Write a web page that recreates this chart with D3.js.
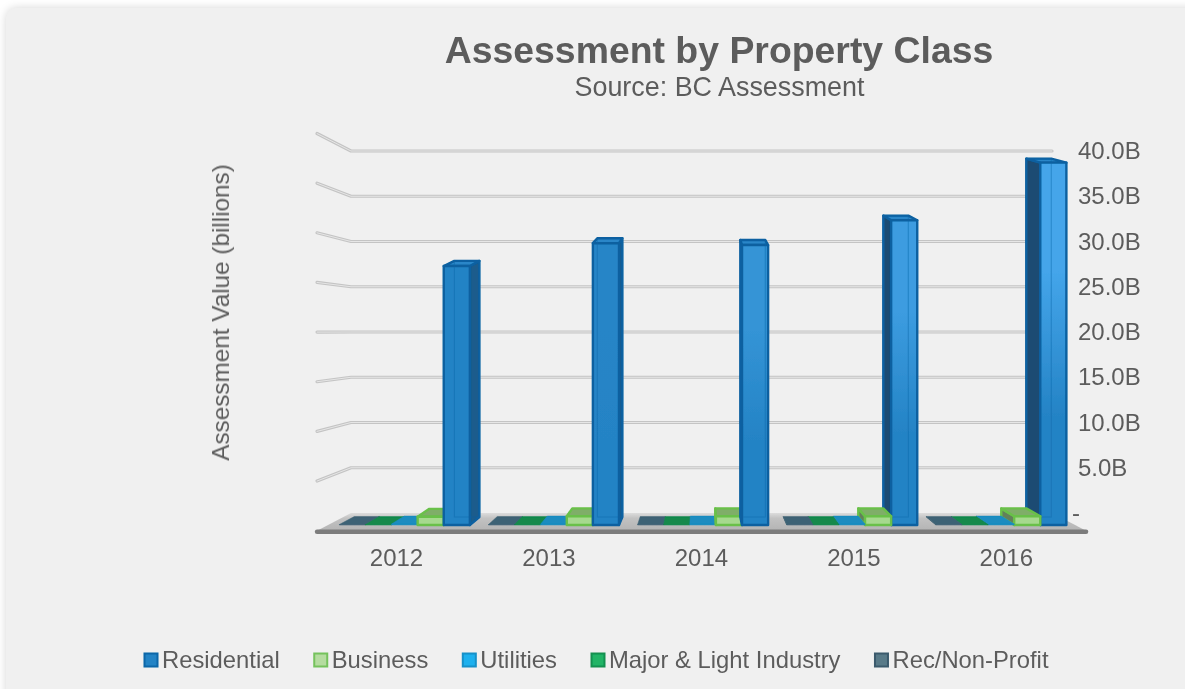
<!DOCTYPE html>
<html>
<head>
<meta charset="utf-8">
<script src="https://cdn.jsdelivr.net/npm/d3@7"></script>
<style>
  html, body { margin: 0; padding: 0; background: #fff; overflow: hidden; }
  text { font-family: "Liberation Sans", Arial, sans-serif; fill: #5c5c5c; }
</style>
</head>
<body>
<div id="chart"></div>
<script>
var years = ["2012", "2013", "2014", "2015", "2016"];
// left to right inside each cluster
var seriesOrder = ["Rec/Non-Profit", "Major & Light Industry", "Utilities", "Business", "Residential"];
var legendOrder = ["Residential", "Business", "Utilities", "Major & Light Industry", "Rec/Non-Profit"];

var residential = [28.3, 30.8, 30.6, 33.3, 39.6];
var business = [0.9, 0.95, 0.95, 0.95, 0.95];
var utilities = [0.1, 0.1, 0.1, 0.1, 0.1];
var majorIndustry = [0.05, 0.05, 0.05, 0.05, 0.05];
var recNonProfit = [0.05, 0.05, 0.05, 0.05, 0.05];

var yTicks = [0, 5, 10, 15, 20, 25, 30, 35, 40];

var values = {
  "Residential": residential,
  "Business": business,
  "Utilities": utilities,
  "Major & Light Industry": majorIndustry,
  "Rec/Non-Profit": recNonProfit
};

var colors = {
  "Residential": {front: "#2483c5", top: "#2a86c8", side: "#1c5b8c", edge: "#0a60a0"},
  "Business": {front: "#a6d98e", top: "#7fae68", side: "#64805a", edge: "#69c048"},
  "Utilities": {front: "#1a8cc0", top: "#1a8cc0", side: "#14709c", edge: "#1a8cc0"},
  "Major & Light Industry": {front: "#12894c", top: "#12894c", side: "#0e6e3c", edge: "#12894c"},
  "Rec/Non-Profit": {front: "#3e6274", top: "#3e6274", side: "#314f5e", edge: "#3e6274"}
};
var legendColors = {
  "Residential": {fill: "#2483c5", stroke: "#0b66a8"},
  "Business": {fill: "#b5dca0", stroke: "#74c25c"},
  "Utilities": {fill: "#1fb0ee", stroke: "#1490c8"},
  "Major & Light Industry": {fill: "#20b466", stroke: "#129050"},
  "Rec/Non-Profit": {fill: "#587a88", stroke: "#3a5a6c"}
};
// residential columns get lighter toward the top on the right of the chart
var residentialTop = ["#2483c5", "#2785c7", "#3494d6", "#3c9ce0", "#44a5ea"];

var width = 1185, height = 689;
var vpX = 701, vpY = 331;          // vanishing point of the fake 3d
var wallDepth = 1.097, barNear = 1.066, barFar = 1.022;

function px(x, s) { return vpX + (x - vpX) * s; }
function py(y, s) { return vpY + (y - vpY) * s; }

var svg = d3.select("#chart").append("svg")
  .attr("width", width)
  .attr("height", height)
  .style("display", "block");

var defs = svg.append("defs");
defs.append("filter").attr("id", "soft")
  .attr("filterUnits", "userSpaceOnUse")
  .attr("x", 0).attr("y", 0).attr("width", width).attr("height", height)
  .append("feGaussianBlur").attr("stdDeviation", 0.45);

var floorGrad = defs.append("linearGradient").attr("id", "floorGrad")
  .attr("x1", 0).attr("y1", 0).attr("x2", 0).attr("y2", 1);
floorGrad.append("stop").attr("offset", "0%").attr("stop-color", "#dcdcdc");
floorGrad.append("stop").attr("offset", "30%").attr("stop-color", "#c2c2c2");
floorGrad.append("stop").attr("offset", "100%").attr("stop-color", "#b4b4b4");

years.forEach(function(y, i) {
  var g = defs.append("linearGradient").attr("id", "resGrad" + i)
    .attr("x1", 0).attr("y1", 0).attr("x2", 0).attr("y2", 1);
  g.append("stop").attr("offset", "0%").attr("stop-color", residentialTop[i]);
  g.append("stop").attr("offset", "30%").attr("stop-color", residentialTop[i]);
  g.append("stop").attr("offset", "70%").attr("stop-color", "#2483c5");
});

// card
svg.append("rect")
  .attr("x", 6).attr("y", 8)
  .attr("width", width + 40).attr("height", height + 40)
  .attr("rx", 10)
  .attr("fill", "#f0f0f0")
  .style("filter", "drop-shadow(0px 0px 4px rgba(0,0,0,0.16))");

var root = svg.append("g").attr("filter", "url(#soft)");
var chart = root.append("g");

// scales
var yScale = d3.scaleLinear().domain([0, 40]).range([513, 151]);
var yBarFar = d3.scaleLinear().domain([0, 40]).range([517, 155]);
var yBarNear = d3.scaleLinear().domain([0, 40]).range([525, 159]);
var xYear = d3.scaleBand().domain(years).range([353, 1052.5]).paddingInner(0.125).paddingOuter(0.0625);
var xSeries = d3.scaleBand().domain(seriesOrder).range([0, xYear.bandwidth()]);
var xLabels = d3.scalePoint().domain(years).range([396, 1005.8]);

var line = d3.line();

// walls and grid
yTicks.filter(function(v) { return v > 0; }).forEach(function(v) {
  var y = yScale(v);
  var pts = [[px(351, wallDepth), py(y, wallDepth)], [351, y], [1052, y]];
  chart.append("path")
    .attr("d", line(pts))
    .attr("fill", "none").attr("stroke", "#c4c4c4").attr("stroke-width", 3.2)
    .attr("stroke-linecap", "round").attr("stroke-linejoin", "round");
  chart.append("path")
    .attr("d", line(pts))
    .attr("fill", "none").attr("stroke", "#e6e6e6").attr("stroke-width", 1)
    .attr("stroke-linecap", "round").attr("stroke-linejoin", "round");
});

// floor
var floorY = yScale(0);
chart.append("path")
  .attr("d", line([[351, floorY], [1052, floorY], [px(1052, wallDepth), py(floorY, wallDepth)], [px(351, wallDepth), py(floorY, wallDepth)]]) + "Z")
  .attr("fill", "url(#floorGrad)");
chart.append("path")
  .attr("d", line([[px(351, wallDepth), py(floorY, wallDepth)], [px(1052, wallDepth), py(floorY, wallDepth)]]))
  .attr("fill", "none").attr("stroke", "#7c7c7c").attr("stroke-width", 4.5)
  .attr("stroke-linecap", "round")
  .attr("transform", "translate(0,1)");

function face(g, pts, fill, stroke, sw, op) {
  g.append("path")
    .attr("d", line(pts) + "Z")
    .attr("fill", fill)
    .attr("fill-opacity", op === undefined ? 1 : op)
    .attr("stroke", stroke)
    .attr("stroke-width", sw)
    .attr("stroke-linejoin", "round");
}

function drawBar(year, i, name) {
  var v = values[name][i];
  var c = colors[name];
  var x0 = xYear(year) + xSeries(name);
  var x1 = x0 + xSeries.bandwidth();
  var g = chart.append("g");
  var sw = name == "Residential" ? 2.4 : (name == "Business" ? 2.4 : 0.5);

  var nb = yBarNear(0), fb = yBarFar(0), nt = yBarNear(v), ft = yBarFar(v);
  var nl = px(x0, barNear), nr = px(x1, barNear), fl = px(x0, barFar), fr = px(x1, barFar);
  var frontFill = name == "Residential" ? "url(#resGrad" + i + ")" : c.front;

  // whichever side faces the viewer
  if (nl > vpX) {
    face(g, [[fl, ft], [nl, nt], [nl, nb], [fl, fb]], name == "Residential" ? "#1d4c73" : c.side, c.edge, sw);
  } else if (nr < vpX) {
    face(g, [[nr, nt], [fr, ft], [fr, fb], [nr, nb]], c.side, c.edge, sw);
  }
  face(g, [[fl, ft], [fr, ft], [nr, nt], [nl, nt]], c.top, c.edge, sw);
  face(g, [[nl, nt], [nr, nt], [nr, nb], [nl, nb]], frontFill, c.edge, sw);

  // back edges showing through the translucent front
  if (name == "Residential") {
    g.append("path")
      .attr("d", line([[fl, ft], [fr, ft], [fr, fb], [fl, fb]]) + "Z")
      .attr("fill", "none")
      .attr("stroke", "#0b66a8")
      .attr("stroke-opacity", 0.4)
      .attr("stroke-width", 1.2);
  }
}

// paint the columns furthest from the centre first
years.forEach(function(year, i) {
  var order = i > 2 ? seriesOrder.slice().reverse() : seriesOrder;
  order.forEach(function(name) { drawBar(year, i, name); });
});

// axes
var fmt = function(v) { return v === 0 ? "-" : d3.format(".1f")(v) + "B"; };
var yAxis = root.append("g")
  .attr("transform", "translate(1078,0)")
  .call(d3.axisRight(yScale).tickValues(yTicks).tickFormat(fmt).tickSize(0).tickPadding(0));
yAxis.select(".domain").remove();
yAxis.selectAll("text")
  .style("font-size", "24px")
  .style("font-family", null)
  .attr("fill", null)
  .attr("x", function(d) { return d === 0 ? -6 : 0; });

var xAxis = root.append("g")
  .attr("transform", "translate(0,549)")
  .call(d3.axisBottom(xLabels).tickSize(0).tickPadding(0));
xAxis.select(".domain").remove();
xAxis.selectAll("text")
  .style("font-size", "24px")
  .style("font-family", null)
  .attr("fill", null);

// titles
root.append("text")
  .attr("x", 719).attr("y", 63)
  .attr("text-anchor", "middle")
  .style("font-size", "37.4px").style("font-weight", "bold")
  .text("Assessment by Property Class");
root.append("text")
  .attr("x", 719.5).attr("y", 96)
  .attr("text-anchor", "middle")
  .style("font-size", "26.9px")
  .text("Source: BC Assessment");
root.append("text")
  .attr("transform", "translate(229,312.5) rotate(-90)")
  .attr("text-anchor", "middle")
  .style("font-size", "24.3px")
  .text("Assessment Value (billions)");

// legend
var legendX = 143.5;
legendOrder.forEach(function(name) {
  var g = root.append("g").attr("transform", "translate(" + legendX + ",660)");
  g.append("rect")
    .attr("x", 1).attr("y", -6.5)
    .attr("width", 13).attr("height", 13)
    .attr("fill", legendColors[name].fill)
    .attr("stroke", legendColors[name].stroke)
    .attr("stroke-width", 2);
  var t = g.append("text")
    .attr("x", 18.5).attr("y", 8)
    .style("font-size", "23.8px")
    .text(name);
  legendX += 18.5 + t.node().getComputedTextLength() + 33.5;
});
</script>
</body>
</html>
